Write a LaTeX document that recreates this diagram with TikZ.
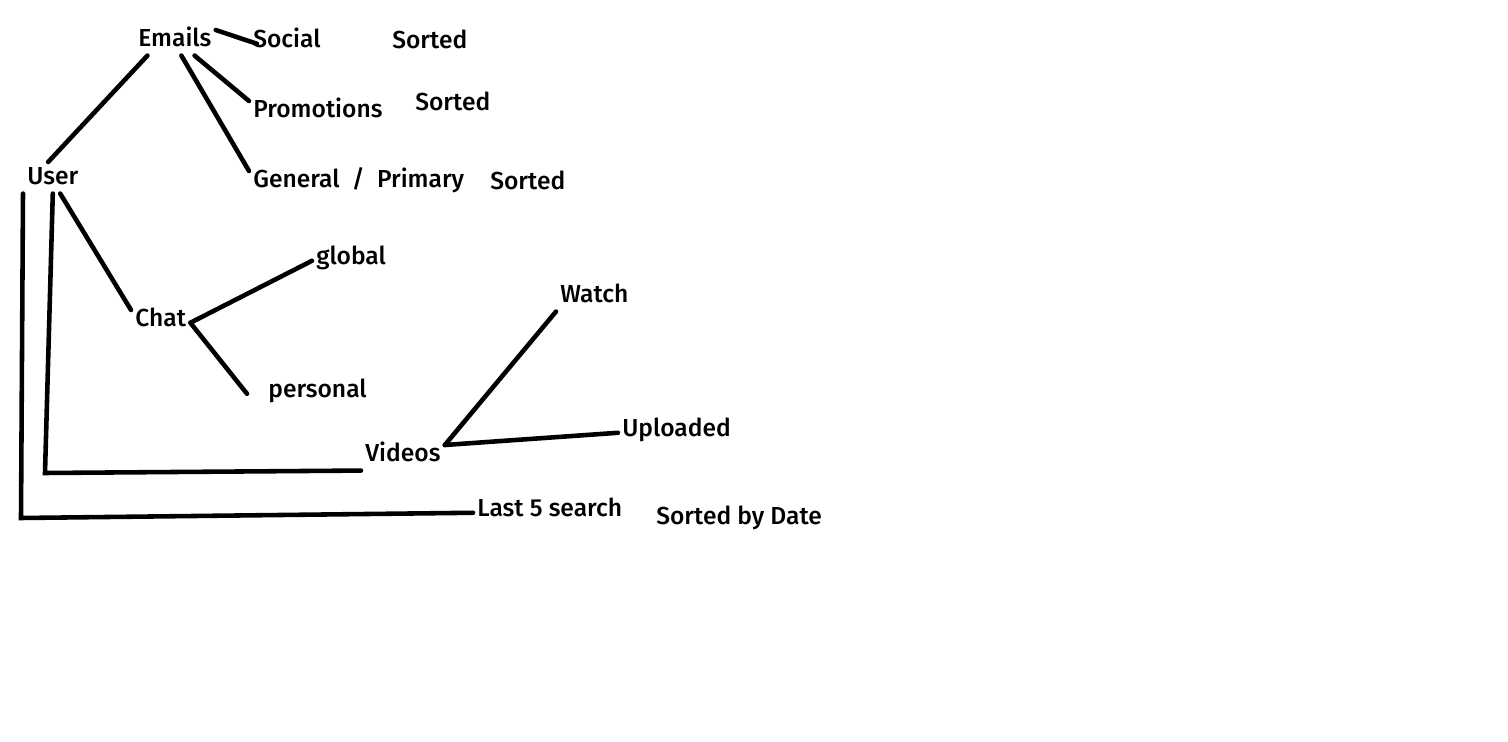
\documentclass[tikz,border=0pt]{standalone}
\usepackage{fontspec}
\setmainfont{Fira Sans Medium}
\usepackage{tikz}
\usetikzlibrary{positioning}
\tikzstyle{item} = [inner sep=0.08cm, anchor=base west, text height=0.72em, text depth=0.24em, font=\fontsize{14}{16}\selectfont]
\tikzstyle{link} = [line width=2.6pt, line cap=round]

\begin{document}
\begin{tikzpicture}[x=0.02cm, y=-0.02cm]
        \useasboundingbox (0,0) rectangle (1508,742);

        % Email folders
        \node (emails) [item] at (134,47) {Emails};
        \node (social) [item] at (249,48) {Social};
        \node (sortsocial) [item] at (388,49) {Sorted};
        \node (promo) [item] at (249,118) {Promotions};
        \node (sortpromo) [item] at (411,111) {Sorted};
        \node (general) [item] at (249,188) {General~ /~ Primary};
        \node (sortgeneral) [item] at (486,190) {Sorted};

        % User and its branches
        \node (user) [item] at (23,185) {User};
        \node (chat) [item] at (131,327) {Chat};
        \node (global) [item] at (312,265) {global};
        \node (personal) [item] at (264,398) {personal};
        \node (videos) [item] at (361,462) {Videos};
        \node (watch) [item] at (556,303) {Watch};
        \node (uploaded) [item] at (618,437) {Uploaded};
        \node (last) [item] at (473,517) {Last 5 search};
        \node (sortdate) [item] at (652,525) {Sorted by Date};

        % Corners of the two long lines
        \coordinate (outer) at (21,518);
        \coordinate (inner) at (45,473);

        % Add links
        \draw[link] (emails.north east) -- ([xshift=0.16cm]social.west);
        \draw[link] (emails.-33) -- (promo.north west);
        \draw[link] (emails.-63) -- (general.north west);
        \draw[link] (emails.-155) -- ([yshift=0.12cm]user.110);
        \draw[link] (user.-60) -- (chat.north west);
        \draw[link] (chat.east) -- (global.west);
        \draw[link] (chat.east) -- ([xshift=-0.34cm]personal.west);
        \draw[link] (user.south) -- (inner) -- (videos.south west);
        \draw[link] (user.south west) -- (outer) -- (last.west);
        \draw[link] (videos.north east) -- (watch.south west);
        \draw[link] (videos.north east) -- (uploaded.west);

    \end{tikzpicture}
\end{document}
